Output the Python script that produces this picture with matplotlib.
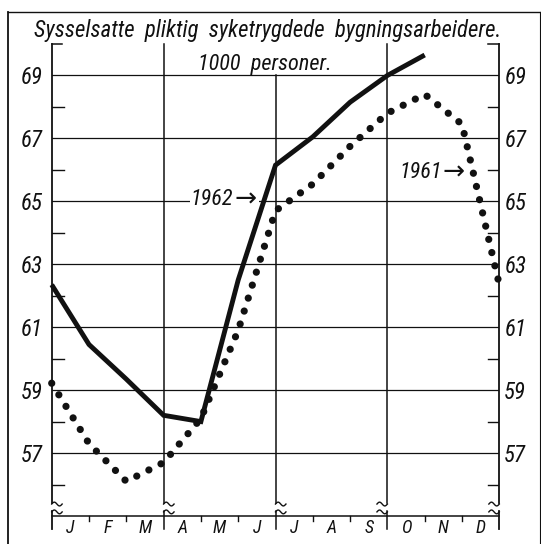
import numpy as np
import matplotlib
matplotlib.use("Agg")
import matplotlib.pyplot as plt
from matplotlib import font_manager
from matplotlib.lines import Line2D

# ---------------- data ----------------
title = "Sysselsatte  pliktig  syketrygdede  bygningsarbeidere."
subtitle = "1000  personer."
month_labels = ["J", "F", "M", "A", "M", "J", "J", "A", "S", "O", "N", "D"]
ytick_values = [57, 59, 61, 63, 65, 67, 69]
minor_tick_values = [56, 58, 60, 62, 64, 66, 68]
quarter_lines = [0, 3, 6, 9, 12]

x_1962 = [0, 1, 2, 3, 4, 5, 6, 7, 8, 9, 10]
y_1962 = [62.35, 60.45, 59.35, 58.2, 58.0, 62.5, 66.15, 67.05, 68.15, 69.0, 69.65]

x_1961 = [0, 1, 2, 3, 4, 5, 6, 7, 8, 9, 10, 11, 12]
y_1961 = [59.22, 57.3, 56.1, 56.7, 58.1, 60.9, 64.7, 65.55, 66.75, 67.8, 68.4, 67.45, 62.35]

label_1962 = "1962"
label_1961 = "1961"
arrow = "\u2192"

# ---------------- fonts ----------------
entries = font_manager.fontManager.ttflist
names = {f.name for f in entries}
stretch = "normal"
if "Liberation Sans Narrow" in names:
    FAMILY = ["Liberation Sans Narrow", "DejaVu Sans"]
elif "Roboto Condensed" in names:
    FAMILY = ["Roboto Condensed", "DejaVu Sans"]
elif any(f.name == "DejaVu Sans" and str(f.stretch) in ("condensed", "semi-condensed")
         for f in entries):
    FAMILY = ["DejaVu Sans"]
    stretch = "condensed"
elif "Liberation Sans" in names:
    FAMILY = ["Liberation Sans", "DejaVu Sans"]
else:
    FAMILY = ["DejaVu Sans"]
plt.rcParams["font.family"] = FAMILY
plt.rcParams["font.style"] = "italic"
plt.rcParams["font.stretch"] = stretch

W, H = 541, 544
fig = plt.figure(figsize=(W / 100, H / 100), dpi=100)
ax_left, ax_right, ax_top, ax_bottom = 51.7, 499.3, 44.0, 516.0
ax = fig.add_axes([ax_left / W, 1 - ax_bottom / H,
                   (ax_right - ax_left) / W, (ax_bottom - ax_top) / H])
ax.set_xlim(0, 12)
ax.set_ylim(55, 70)
ax.axis("off")

PXM = (ax_right - ax_left) / 12.0      # px per month
PXU = (ax_bottom - ax_top) / 15.0      # px per unit

K = "#111111"
glw = 0.9

# horizontal gridlines
for v in ytick_values:
    ax.plot([0, 12], [v, v], color=K, lw=glw, zorder=1)
# bottom axis
ax.plot([0, 12], [55, 55], color=K, lw=1.1, zorder=1, clip_on=False)

# vertical lines with break marks
brk_top, brk_bot = 55.42, 55.15
for q in quarter_lines:
    top = 69 if q == 6 else 70
    lwq = 1.3 if q in (0, 12) else 1.1
    ax.plot([q, q], [top, brk_top], color=K, lw=lwq, zorder=1, clip_on=False)
    ax.plot([q, q], [brk_bot, 54.6], color=K, lw=lwq, zorder=1, clip_on=False)
    d = -1 if q >= 9 else 1
    t = np.linspace(0, 1, 30)
    xs = q + d * 0.28 * t
    for yb in (brk_top, brk_bot + 0.02):
        ys = yb - 0.04 + 0.06 * np.sin(2 * np.pi * t) * d
        ax.plot(xs, ys, color=K, lw=1.0, zorder=1, clip_on=False)

# top corner ticks
ax.plot([0, 0.28], [70, 70], color=K, lw=1.1, clip_on=False)
ax.plot([11.7, 12], [70, 70], color=K, lw=1.1, clip_on=False)

# minor ticks on both sides
for v in minor_tick_values:
    ax.plot([0, 0.32], [v, v], color=K, lw=1.0, zorder=1)
    ax.plot([11.7, 12], [v, v], color=K, lw=1.0, zorder=1)

# month ticks
for m in range(1, 12):
    if m % 3 == 0:
        continue
    ax.plot([m, m], [55, 54.83], color=K, lw=1.0, clip_on=False)

# month labels
for i, lab in enumerate(month_labels):
    ax.text(i + 0.5, 54.45, lab, ha="center", va="baseline",
            fontsize=13, color=K, clip_on=False)

# y tick labels on both sides
for v in ytick_values:
    ax.text(-9 / PXM, v - 0.27, str(v), ha="right", va="baseline",
            fontsize=16.5, color=K, clip_on=False)
    ax.text(12 + 5 / PXM, v - 0.27, str(v), ha="left", va="baseline",
            fontsize=16.5, color=K, clip_on=False)

# data series (drawn above the annotation boxes)
ax.plot(x_1961, y_1961, color=K, lw=5.2, linestyle=(0, (0.01, 1.87)),
        dash_capstyle="round", zorder=7, clip_on=False)
ax.plot(x_1962, y_1962, color=K, lw=3.5, solid_joinstyle="miter",
        solid_capstyle="butt", zorder=8, clip_on=False)

# annotations: digits + arrow
arrow_w = 22.0 / PXM
a62 = ax.text(5.5, 64.85, arrow, ha="right", va="baseline", fontsize=19,
              family=["DejaVu Sans"], style="normal", color=K, zorder=5,
              bbox=dict(facecolor="white", edgecolor="none", pad=1.5))
t62 = ax.text(5.5 - arrow_w - 1.5 / PXM, 64.88, label_1962, ha="right",
              va="baseline", fontsize=16, color=K, zorder=6,
              bbox=dict(facecolor="white", edgecolor="none", pad=1.0))
a61 = ax.text(11.08, 65.70, arrow, ha="right", va="baseline", fontsize=19,
              family=["DejaVu Sans"], style="normal", color=K, zorder=5)
t61 = ax.text(11.08 - arrow_w - 1.5 / PXM, 65.73, label_1961, ha="right",
              va="baseline", fontsize=16, color=K, zorder=5)
tsub = ax.text(5.73, 69.17, subtitle, ha="center", va="baseline", fontsize=15.5,
               color=K, zorder=5)

# title
ttl = fig.text(267.5 / W, 1 - 37 / H, title, ha="center", va="baseline",
               fontsize=16, color=K)

# fit text widths to the reference widths (px)
fig.canvas.draw()
r = fig.canvas.get_renderer()
for txt, target in ((ttl, 469.0), (tsub, 133.0)):
    w = txt.get_window_extent(r).width
    fs = txt.get_fontsize() * target / w
    txt.set_fontsize(min(max(fs, 10), 18.5))

# outer frame
def fl(x0, y0, x1, y1, lw=1.0):
    fig.add_artist(Line2D([x0 / W, x1 / W], [1 - y0 / H, 1 - y1 / H],
                          transform=fig.transFigure, color=K, lw=lw))

fl(8, 12, 539.5, 12, 1.0)
fl(8, 12, 8, 544, 1.3)
fl(539.5, 12, 539.5, 544, 0.8)

fig.savefig("out.png", dpi=100, facecolor="white")
